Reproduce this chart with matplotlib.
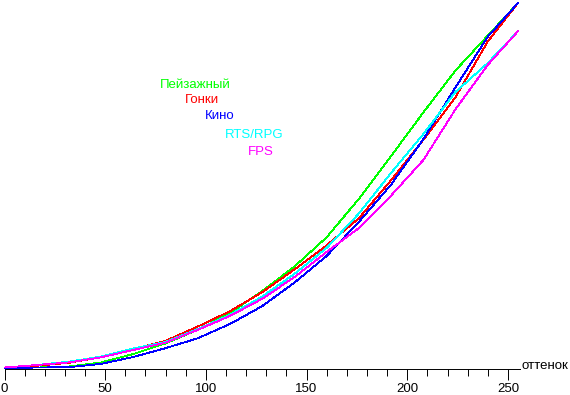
import matplotlib
matplotlib.use("Agg")
import matplotlib.pyplot as plt
from matplotlib.ticker import MultipleLocator

# уровни входного сигнала (оттенок) и яркость, % от максимума
shade = [0, 16, 32, 48, 64, 80, 96, 112, 128, 144, 160, 176, 192, 208, 224, 240, 255]

landscape = [0.3, 0.4, 0.7, 1.8, 4.1, 7.0, 10.7, 15.3, 21.3, 28.0, 36.0, 46.5, 58.2, 70.1, 81.6, 91.1, 100]
racing = [0.4, 0.9, 1.7, 3.2, 5.5, 7.7, 11.6, 15.8, 21.0, 27.2, 33.8, 41.2, 51.6, 62.6, 74.3, 89.5, 100]
cinema = [0.3, 0.4, 0.5, 1.4, 3.3, 5.7, 8.4, 12.3, 17.2, 23.6, 30.9, 40.2, 50.4, 62.8, 77.0, 90.8, 100]
rts_rpg = [0.4, 1.1, 2.0, 3.4, 5.6, 7.4, 10.9, 14.8, 19.8, 26.0, 33.1, 42.5, 53.6, 64.2, 75.7, 83.6, 92.3]
fps = [0.4, 1.1, 1.8, 3.2, 5.2, 7.2, 10.7, 14.5, 19.2, 25.1, 32.0, 38.5, 47.4, 57.1, 71.0, 83.1, 92.3]

names = ["Пейзажный", "Гонки", "Кино", "RTS/RPG", "FPS"]
series = [landscape, racing, cinema, rts_rpg, fps]
colors = ["#00ff00", "#ff0000", "#0000ff", "#00ffff", "#ff00ff"]

plt.rcParams['font.family'] = ['Liberation Sans', 'DejaVu Sans']

W, H = 570, 395
fig = plt.figure(figsize=(W / 100, H / 100), dpi=100)
# 0 -> x=4.5px, 255 -> x=518px ; 0 -> y=369px, 100 -> y=3px
ax = fig.add_axes([4.5 / W, (H - 369) / H, (519.5 - 4.5) / W, 366 / H])

for vals, c in zip(series, colors):
    ax.plot(shade, vals, color=c, lw=0.6, antialiased=False, clip_on=False)

ax.set_xlim(0, 255 * (515 / 513.5))
ax.set_ylim(0, 100)

for s in ["top", "right", "left"]:
    ax.spines[s].set_visible(False)
ax.spines["bottom"].set_linewidth(0.7)
ax.set_yticks([])
ax.xaxis.set_major_locator(MultipleLocator(50))
ax.xaxis.set_minor_locator(MultipleLocator(10))
ax.tick_params(axis="x", which="major", direction="out", length=8, width=0.7, labelsize=9.5, pad=2)
ax.tick_params(axis="x", which="minor", direction="out", length=5, width=0.7)
ax.patch.set_visible(False)

fig.text(521 / W, 1 - 366 / H, "оттенок", fontsize=9.5, ha="left", va="center")

# подписи режимов
label_pos = [(160, 85), (185, 100), (205, 116), (225, 135), (248, 152)]
for name, c, (px, py) in zip(names, colors, label_pos):
    fig.text(px / W, 1 - py / H, name, color=c, fontsize=9.5, ha="left", va="center")

fig.savefig("out.png", dpi=100)
